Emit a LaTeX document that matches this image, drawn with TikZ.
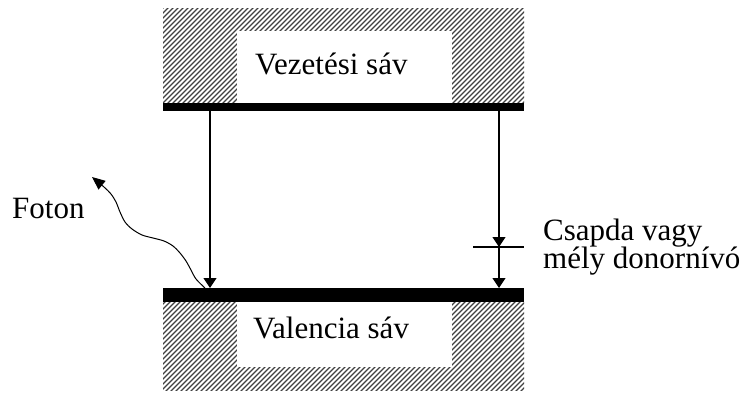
\documentclass[tikz,border=0pt]{standalone}
\usepackage{fontspec}
\setmainfont{Liberation Serif}
\usetikzlibrary{arrows.meta}
\begin{document}
\begin{tikzpicture}[x=1pt,y=-1pt,
  lbl/.style={font=\fontsize{31}{34}\selectfont, inner sep=0pt, anchor=base west},
  arr/.style={line width=1.1pt, -{Triangle[width=13pt,length=10pt]}},
  photon/.style={line width=1pt, -{Triangle[width=11pt,length=13pt]}},
  hatchline/.style={line width=1.3pt, black!75},
  bar/.style={fill=black, inner sep=0pt, anchor=north west, minimum width=361pt}]
\useasboundingbox (0,0) rectangle (746,394);
% hatched bands
\begin{scope}
  \clip (163,8) rectangle (524,104);
  \foreach \i in {60,65,...,530} \draw[hatchline] (\i,106) -- ++(100,-100);
\end{scope}
\fill[white] (237,31) rectangle (452,104);
\begin{scope}
  \clip (163,302) rectangle (524,390);
  \foreach \i in {60,65,...,530} \draw[hatchline] (\i,392) -- ++(100,-100);
\end{scope}
\fill[white] (237,302) rectangle (452,367);
% band edges
\node[bar, minimum height=8pt] (topbar) at (163,103) {};
\node[bar, minimum height=14pt] (botbar) at (163,288) {};
% labels
\node[lbl] (vez) at (255,74) {Vezetési sáv};
\node[lbl] (val) at (253,338) {Valencia sáv};
\node[lbl] (foton) at (12,218) {Foton};
\node[lbl] (csapda1) at (543,240) {Csapda vagy};
\node[lbl] (csapda2) at (543,268) {mély donornívó};
% transitions
\coordinate (xl) at (210,0);
\coordinate (xr) at (499,0);
\coordinate (trap) at (499,247);
\draw[arr] (xl |- topbar.south) -- (xl |- botbar.north);
\draw[arr] (xr |- topbar.south) -- (trap);
\draw[arr] (trap) -- (xr |- botbar.north);
\draw[line width=1.1pt] (trap) ++(-26,0) -- ++(51,0);
% photon
\coordinate (ph0) at (205,288);
\draw[photon] plot[smooth] coordinates {(ph0) (196,279) (191,270) (186,261) (180,253) (173,246) (164,241) (153,238) (142,235) (132,229) (125,222) (120,212) (116,202) (111,194) (104,187) (92,177)};
\end{tikzpicture}
\end{document}
